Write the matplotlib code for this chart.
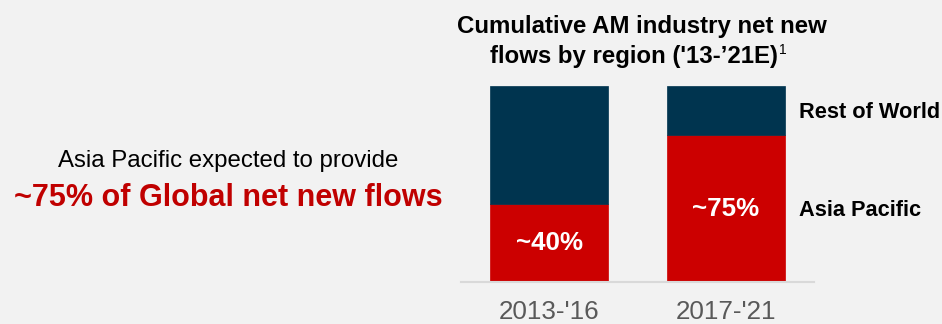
import matplotlib
matplotlib.use("Agg")
import matplotlib.pyplot as plt
from matplotlib.transforms import offset_copy

periods = ["2013-'16", "2017-'21"]
asia_pacific = [40, 75]
rest_of_world = [60, 25]
bar_labels = ["~40%", "~75%"]
series_names = ["Asia Pacific", "Rest of World"]

BG = "#F2F2F2"
RED = "#CC0000"
NAVY = "#00344F"
FONT = "Liberation Sans"

plt.rcParams['font.family'] = [FONT, 'DejaVu Sans']

W, H = 942, 324
fig = plt.figure(figsize=(W / 100, H / 100), dpi=100, facecolor=BG)

ax = fig.add_axes([461 / W, 42 / H, 353 / W, 196 / H])
ax.set_facecolor(BG)
x = list(range(len(periods)))
bw = 0.667
ax.bar(x, asia_pacific, width=bw, color=RED, edgecolor=RED, linewidth=0.5)
ax.bar(x, rest_of_world, width=bw, bottom=asia_pacific, color=NAVY,
       edgecolor=NAVY, linewidth=0.5)
ax.set_xlim(-0.5, 1.5)
ax.set_ylim(0, 100)
for s in ["top", "right", "left"]:
    ax.spines[s].set_visible(False)
ax.spines["bottom"].set_color("#D9D9D9")
ax.spines["bottom"].set_linewidth(1.5)
ax.set_yticks([])
ax.set_xticks(x)
ax.set_xticklabels(periods, fontsize=18.7, color="#595959")
ax.tick_params(axis="x", length=0, pad=13)

# value labels
up = offset_copy(ax.transData, fig=fig, x=0, y=1.5, units="points")
for xi, v, lab in zip(x, asia_pacific, bar_labels):
    ax.text(xi, v / 2, lab, ha="center", va="center_baseline", color="white",
            fontsize=18.7, fontweight="bold", transform=up)

# series labels at right of last bar
last = len(x) - 1
ax.text(1.415, asia_pacific[last] / 2, series_names[0], ha="left",
        va="center_baseline", fontsize=15.7, fontweight="bold", color="black",
        clip_on=False)
ax.text(1.415, asia_pacific[last] + rest_of_world[last] / 2, series_names[1],
        ha="left", va="center_baseline", fontsize=15.7, fontweight="bold",
        color="black", clip_on=False)

# title
fig.text(642 / W, 1 - 24 / H, "Cumulative AM industry net new", ha="center",
         va="center_baseline", fontsize=17.3, fontweight="bold", color="black")
t2 = fig.text(634 / W, 1 - 54 / H, "flows by region ('13-\u201921E)",
              ha="center", va="center_baseline", fontsize=17.3,
              fontweight="bold", color="black")
fig.canvas.draw()
bb = t2.get_window_extent(fig.canvas.get_renderer())
fig.text((bb.x1 + 1) / W, 1 - 48 / H, "1", ha="left", va="center_baseline",
         fontsize=10, color="black")

# left annotation
fig.text(228 / W, 1 - 159 / H, "Asia Pacific expected to provide",
         ha="center", va="center_baseline", fontsize=17.3, color="black")
fig.text(228 / W, 1 - 194 / H, "~75% of Global net new flows",
         ha="center", va="center_baseline", fontsize=22, fontweight="bold",
         color="#C00000")

fig.savefig("out.png", dpi=100, facecolor=BG)
